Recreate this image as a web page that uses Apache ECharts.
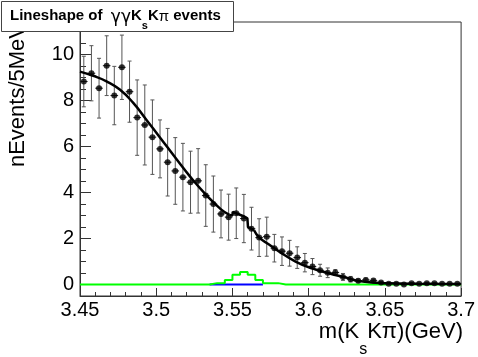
<!DOCTYPE html>
<html><head><meta charset="utf-8">
<script src="https://cdn.jsdelivr.net/npm/echarts@6/dist/echarts.min.js"></script>
<style>html,body{margin:0;padding:0;background:#fff}#c{width:478px;height:357px}</style>
</head><body><div id="c"></div>
<script>
// ---- data ----
const binCenters = [3.4525,3.4575,3.4625,3.4675,3.4725,3.4775,3.4825,3.4875,3.4925,3.4975,
  3.5025,3.5075,3.5125,3.5175,3.5225,3.5275,3.5325,3.5375,3.5425,3.5475,
  3.5525,3.5575,3.5625,3.5675,3.5725,3.5775,3.5825,3.5875,3.5925,3.5975,
  3.6025,3.6075,3.6125,3.6175,3.6225,3.6275,3.6325,3.6375,3.6425,3.6475,
  3.6525,3.6575,3.6625,3.6675,3.6725,3.6775,3.6825,3.6875,3.6925,3.6975];
const halfBin = 0.0025;
const eventCounts = [8.83,9.19,8.54,9.52,8.22,9.45,8.39,7.26,6.94,6.41,
  5.90,5.32,4.94,4.67,4.45,4.51,3.87,3.50,3.07,2.93,
  3.10,2.87,2.43,2.04,2.08,1.58,1.45,1.36,1.17,0.95,
  0.78,0.62,0.51,0.52,0.33,0.23,0.16,0.20,0.17,0.09,
  0.03,0.03,0.00,0.06,0.03,0.06,0.06,0.03,0.03,0.03];
const eventErrors = [1.1,1.2,1.3,1.3,1.27,1.4,1.33,1.64,1.74,1.62,
  1.26,1.47,1.45,1.47,1.35,1.4,1.34,1.22,1.04,1.0,
  1.1,1.05,0.93,0.82,0.85,0.6,0.62,0.56,0.47,0.4,
  0.35,0.26,0.21,0.13,0.15,0.12,0.08,0.08,0.06,0.04,
  0.02,0.02,0.02,0.03,0.02,0.03,0.03,0.02,0.02,0.02];
const signalHist = [0,0,0,0,0,0,0,0,0,0,
  0,0,0,0,0,0,0,0.06,0.06,0.2,
  0.42,0.54,0.42,0.2,0.06,0.06,0,0,0,0,
  0,0,0,0,0,0,0,0,0,0,
  0,0,0,0,0,0,0,0,0,0];
const blueBins = [17,18,19,20,21,22,23];
const blueHist = [0,0,0,0,0,0,0];
// total fit curve, read in three pieces (smooth rise, stepped signal region, smooth tail)
const fitHeadX = [3.45,3.4587,3.4674,3.4761,3.4848,3.4935,3.5022,3.5131,3.5225,3.5327,3.5425,3.548];
const fitHeadY = [9.26,9.08,8.84,8.48,7.91,7.17,6.42,5.47,4.67,3.90,3.27,3.03];
const fitMidX = [3.548,3.5500,3.5502,3.5577,3.5598,3.5602,3.5642];
const fitMidY = [3.03,3.00,3.16,2.96,2.88,2.50,2.36];
const fitTailX = [3.5642,3.5675,3.574,3.5805,3.5914,3.6023,3.6132,3.6241,3.6328,3.6524,3.672,3.70];
const fitTailY = [2.36,2.05,1.74,1.44,1.00,0.70,0.49,0.31,0.15,0.05,0.03,0.02];
const yMajorTicks = [0,2,4,6,8,10];
const yMinorTicks = [0.5,1,1.5,2.5,3,3.5,4.5,5,5.5,6.5,7,7.5,8.5,9,9.5,10.5,11];

// ---- build library structures ----
function histEdges(centers, vals){
  const out=[];
  for(let i=0;i<centers.length;i++){out.push([centers[i]-halfBin,vals[i]]);out.push([centers[i]+halfBin,vals[i]]);}
  return out;
}
const zip = (xs,ys)=>xs.map((x,i)=>[x,ys[i]]);
const greenData = histEdges(binCenters, signalHist);
const blueData = histEdges(blueBins.map(i=>binCenters[i]), blueHist);
const pts = binCenters.map((x,i)=>[x,eventCounts[i],eventErrors[i]]);

const FONT = '"Liberation Sans", Arial, Helvetica, sans-serif';
const mctx = document.createElement('canvas').getContext('2d');
const W = (t,f)=>{mctx.font=f; return mctx.measureText(t).width;};

const chart = echarts.init(document.getElementById('c'), null, {renderer:'canvas'});
const T = (x,y,text,font,extra)=>Object.assign({type:'text', z:21, x:x, y:y, style:{text:text, font:font, fill:'#000', verticalAlign:'middle'}}, extra||{});

// title pieces laid out left to right
const tb='bold 15px '+FONT, tg='17px "DejaVu Sans", sans-serif', tsub='bold 11px '+FONT, tn='15px '+FONT;
const titleParts=[['Lineshape of',tb,16],['  ',tb,16],['γγ',tg,18],['K',tb,16],['s',tsub,26],['K',tb,16],['π',tn,17],[' events',tb,16]];
const titleEls=[]; let tx=10;
titleParts.forEach(p=>{ if(p[0].trim()) titleEls.push(T(tx,p[2],p[0],p[1])); tx+=W(p[0],p[1]); });

// x-axis title, right aligned at the frame edge
const xf='22px '+FONT, xs='16px '+FONT;
const xParts=[['m(K',xf,332],['s',xs,350],['Kπ)(GeV)',xf,332]];
let xtot=0; xParts.forEach(p=>xtot+=W(p[0],p[1]));
let xx=463-xtot; const xEls=[];
xParts.forEach(p=>{ xEls.push(T(xx,p[2],p[0],p[1],{z:10})); xx+=W(p[0],p[1]); });

const fitStyle = {color:'#000', width:2.5};
chart.setOption({
  animation:false,
  backgroundColor:'#fff',
  grid:{left:80, top:22, right:15, bottom:61, show:true, borderColor:'#333', borderWidth:1, backgroundColor:'transparent'},
  xAxis:{type:'value', min:3.45, max:3.7, interval:0.05,
    axisLine:{show:true, onZero:false, lineStyle:{color:'#333', width:1}},
    axisTick:{show:true, inside:true, length:8, lineStyle:{color:'#333'}},
    minorTick:{show:true, splitNumber:5, length:4, lineStyle:{color:'#333'}},
    axisLabel:{fontSize:20, color:'#000', fontFamily:FONT, margin:4,
      formatter:v=>String(parseFloat(v.toFixed(2)))},
    splitLine:{show:false}},
  yAxis:[
    {type:'value', min:-0.5, max:11.42,
     axisLine:{show:true, onZero:false, lineStyle:{color:'#333', width:1}},
     axisTick:{show:true, inside:true, length:11, customValues:yMajorTicks, lineStyle:{color:'#333'}},
     axisLabel:{show:true, customValues:yMajorTicks, fontSize:20, color:'#000', fontFamily:FONT, margin:6},
     splitLine:{show:false}},
    {type:'value', min:-0.5, max:11.42, position:'left',
     axisLine:{show:false},
     axisTick:{show:true, inside:true, length:6, customValues:yMinorTicks, lineStyle:{color:'#333'}},
     axisLabel:{show:false}, splitLine:{show:false}}
  ],
  series:[
    {type:'line', data:greenData, showSymbol:false, symbol:'none', lineStyle:{color:'#00ff00', width:2}, z:3},
    {type:'line', data:blueData, showSymbol:false, symbol:'none', lineStyle:{color:'#0000ff', width:2}, z:2},
    {type:'custom', data:pts, z:4,
     renderItem:function(params, api){
       const x=api.value(0), y=api.value(1), e=api.value(2);
       const t=api.coord([x,y+e]), b=api.coord([x,y-e]);
       const l=api.coord([x-halfBin,y]), r=api.coord([x+halfBin,y]);
       const st={stroke:'#555', lineWidth:1};
       return {type:'group', children:[
         {type:'line', shape:{x1:t[0],y1:t[1],x2:b[0],y2:b[1]}, style:st},
         {type:'line', shape:{x1:t[0]-2,y1:t[1],x2:t[0]+2,y2:t[1]}, style:st},
         {type:'line', shape:{x1:b[0]-2,y1:b[1],x2:b[0]+2,y2:b[1]}, style:st},
         {type:'line', shape:{x1:l[0],y1:l[1],x2:r[0],y2:r[1]}, style:{stroke:'#222', lineWidth:1}}
       ]};
     }},
    {type:'line', data:zip(fitHeadX,fitHeadY), showSymbol:false, symbol:'none', smooth:0.5, lineStyle:fitStyle, z:5},
    {type:'line', data:zip(fitMidX,fitMidY), showSymbol:false, symbol:'none', smooth:false, lineStyle:fitStyle, z:5},
    {type:'line', data:zip(fitTailX,fitTailY), showSymbol:false, symbol:'none', smooth:0.5, lineStyle:fitStyle, z:5},
    {type:'scatter', data:pts.map(p=>[p[0],p[1]]), symbol:'circle', symbolSize:6, itemStyle:{color:'#000'}, z:6}
  ],
  graphic:[
    {type:'text', z:10, rotation:Math.PI/2, x:18, y:24,
     style:{text:'nEvents/5MeV', font:'22px '+FONT, fill:'#000', align:'right', verticalAlign:'middle'}},
    {type:'rect', z:20, shape:{x:1.5,y:1.5,width:232,height:30}, style:{fill:'#fff', stroke:'#444', lineWidth:1}}
  ].concat(titleEls, xEls)
});
</script></body></html>
